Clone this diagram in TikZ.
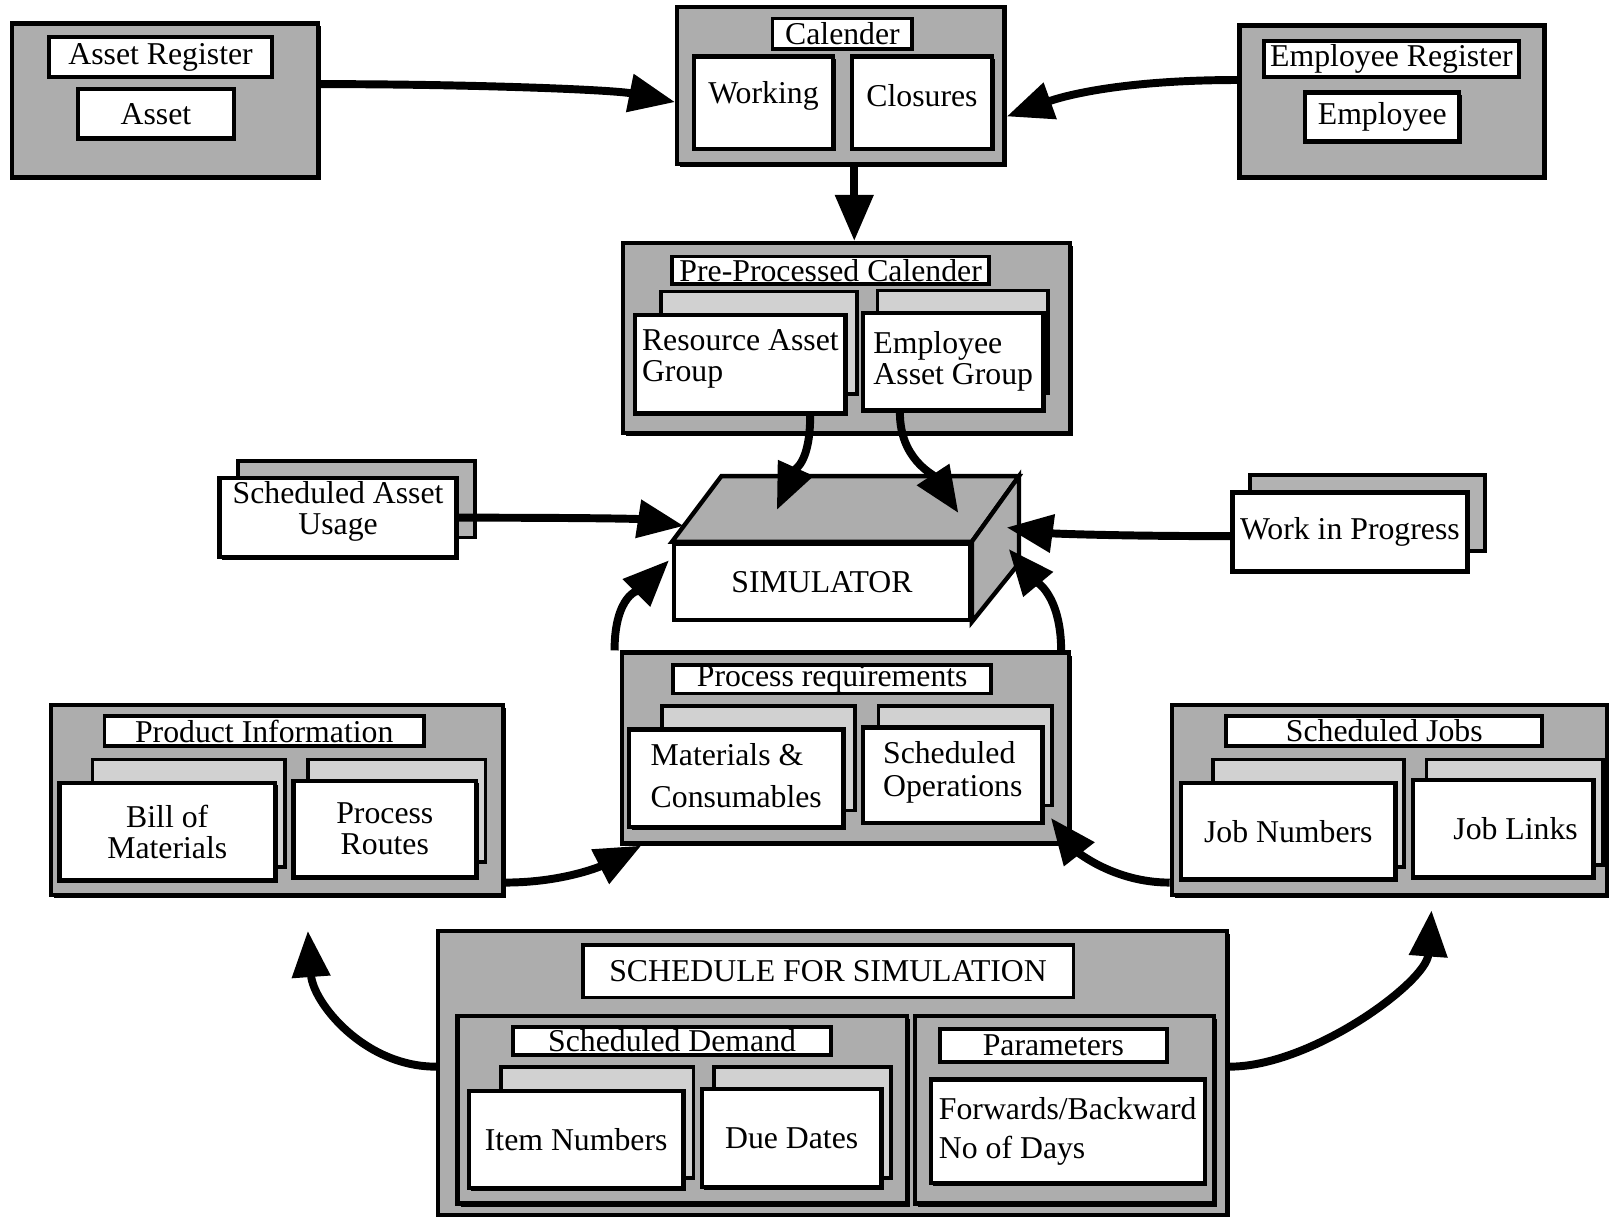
\documentclass[tikz,border=0pt]{standalone}
\usepackage{fontspec}
\setmainfont{Liberation Serif}
\usetikzlibrary{arrows.meta,fit,shadows,calc}

\begin{document}
\begin{tikzpicture}[x=0.01cm,y=-0.01cm,font=\fontsize{8.8}{8.6}\selectfont]
\tikzstyle{panel}=[draw,line width=1.2pt,fill=black!32,inner sep=0pt,drop shadow={shadow xshift=0.8pt,shadow yshift=-0.8pt,fill=black,opacity=1}]
\tikzstyle{tab}=[draw,line width=1pt,fill=white,inner sep=0pt]
\tikzstyle{sheet}=[tab,line width=1.2pt,drop shadow={shadow xshift=0.7pt,shadow yshift=-0.7pt,fill=black,opacity=1}]
\tikzstyle{backsheet}=[draw,line width=1pt,fill=black!18,inner sep=0pt]
\tikzstyle{flow}=[line width=2.2pt,-{Triangle[length=4.5mm,width=3.6mm]}]
\path[use as bounding box,fill=white] (0,0) rectangle (1568,1186);

\node[panel,fit={(12,23) (310,173)}] (areg) {};
\node[tab,fit={(48,36) (265,75)},label=center:Asset Register] (aregt) {};
\node[sheet,fit={(76,87) (228,135)},label=center:Asset] (asset) {};

\node[panel,fit={(660,7) (979,160)}] (cal) {};
\node[tab,fit={(753,18) (889,48)},label=center:Calender] (calt) {};
\node[sheet,fit={(676,55) (812,145)},label={[yshift=0.07cm]center:Working}] (work) {};
\node[sheet,fit={(830,55) (967,145)},label={[yshift=0.07cm]center:Closures}] (clos) {};

\node[panel,fit={(1208,25) (1505,173)}] (ereg) {};
\node[tab,fit={(1232,40) (1480,75)},label=center:Employee Register] (eregt) {};
\node[sheet,fit={(1272,90) (1422,138)},label=center:Employee] (empl) {};

\node[panel,fit={(607,237) (1043,422)}] (pp) {};
\node[tab,fit={(655,250) (964,277)},label=center:Pre-Processed Calender] (ppt) {};
\node[backsheet,fit={(644,284) (835,384)}] (ragb) {};
\node[sheet,fit={(619,307) (824,403)},label={[align=left,yshift=0.05cm]center:Resource Asset\\Group}] (rag) {};
\node[backsheet,fit={(855,283) (1021,383)}] (eagb) {};
\node[sheet,fit={(841,305) (1017,400)},label={[align=left]center:Employee\\Asset Group}] (eag) {};

\coordinate (sA) at (703,464);
\coordinate (sB) at (993,464);
\coordinate (sC) at (993,549);
\node[sheet,fit={(657,530) (945,604)},label=center:SIMULATOR] (sim) {};
\draw[line width=1.2pt,fill=black!32] (sim.north west) -- (sA) -- (sB) -- (sim.north east) -- cycle;
\draw[line width=1.2pt,fill=black!32] (sim.north east) -- (sB) -- (sC) -- (sim.south east) -- cycle;
\coordinate (t1) at (757,497);
\coordinate (t2) at (934,500);
\coordinate (t3) at ($(sim.north west)!0.24!(sA)$);
\coordinate (t4) at (981,514);
\coordinate (t5) at (652,546);
\coordinate (t6) at (983,535);

\node[backsheet,fill=black!30,fit={(232,449) (463,524)}] (saub) {};
\node[sheet,fit={(214,466) (445,543)},label={[align=center,yshift=0.06cm]center:Scheduled Asset\\Usage}] (sau) {};

\node[backsheet,fill=black!30,fit={(1218,463) (1447,537)}] (wipb) {};
\node[sheet,fit={(1201,480) (1430,557)},label=center:Work in Progress] (wip) {};

\node[panel,fit={(606,636) (1042,822)}] (pr) {};
\node[tab,fit={(656,648) (966,676)},label=center:Process requirements] (prt) {};
\node[backsheet,fit={(645,688) (833,790)}] (matb) {};
\node[sheet,fit={(613,711) (822,806)},label={[align=left,yshift=0.03cm]center:Materials \&\\[3pt]Consumables}] (mat) {};
\node[backsheet,fit={(856,688) (1025,785)}] (sopb) {};
\node[sheet,fit={(841,709) (1016,802)},label={[align=left,yshift=0.03cm]center:Scheduled\\[0.5pt]Operations}] (sop) {};

\node[panel,fit={(50,687) (490,872)}] (pi) {};
\node[tab,fit={(102,698) (413,727)},label=center:Product Information] (pit) {};
\node[backsheet,fit={(90,740) (278,845)}] (bomb) {};
\node[sheet,fit={(58,763) (268,858)},label={[align=center]center:Bill of\\Materials}] (bom) {};
\node[backsheet,fit={(300,740) (473,840)}] (routeb) {};
\node[sheet,fit={(286,761) (464,855)},label={[align=center]center:Process\\Routes}] (route) {};

\node[panel,fit={(1142,687) (1566,872)}] (sj) {};
\node[tab,fit={(1195,698) (1503,727)},label=center:Scheduled Jobs] (sjt) {};
\node[backsheet,fit={(1182,740) (1368,845)}] (jnb) {};
\node[sheet,fit={(1151,763) (1360,857)},label=center:Job Numbers] (jn) {};
\node[backsheet,fit={(1390,740) (1562,843)}] (jlb) {};
\node[sheet,fit={(1377,760) (1553,855)},label={[xshift=0.12cm]center:Job Links}] (jl) {};

\node[panel,fit={(427,907) (1196,1184)}] (sfs) {};
\node[tab,fit={(568,921) (1046,972)},label=center:SCHEDULE FOR SIMULATION] (sfst) {};
\node[panel,fit={(446,990) (884,1173)}] (sd) {};
\node[tab,fit={(500,1001) (810,1028)},label=center:Scheduled Demand] (sdt) {};
\node[backsheet,fit={(488,1040) (676,1148)}] (itemb) {};
\node[sheet,fit={(457,1063) (666,1158)},label=center:Item Numbers] (item) {};
\node[backsheet,fit={(696,1040) (868,1148)}] (dueb) {};
\node[sheet,fit={(684,1061) (859,1157)},label=center:Due Dates] (due) {};
\node[panel,fit={(892,990) (1183,1173)}] (par) {};
\node[tab,fit={(916,1003) (1137,1035)},label=center:Parameters] (part) {};
\node[sheet,fit={(907,1052) (1174,1153)},label={[align=left]center:Forwards/Backward\\[2pt]No of Days}] (fwd) {};

\draw[flow] ([yshift=0.16cm]areg.east) .. controls +(150,0) and +(-60,-12) .. ([yshift=-0.16cm]cal.west);
\draw[flow] ([yshift=0.21cm]ereg.west) .. controls +(-120,0) and +(50,-18) .. ([yshift=-0.3cm]cal.east);
\draw[flow] ([xshift=0.13cm]cal.south) -- ([xshift=0.13cm]cal.south |- pp.north);
\draw[flow] ([xshift=0.68cm]rag.south) .. controls +(0,45) and +(18,-40) .. (t1);
\draw[flow] ([xshift=-0.52cm]eag.south) .. controls +(0,45) and +(-25,-38) .. (t2);
\draw[flow] (sau.east) .. controls +(120,0) and +(-45,-7) .. (t3);
\draw[flow] ([yshift=-0.04cm]wip.west) .. controls +(-110,0) and +(45,6) .. (t4);
\draw[flow] ([xshift=-0.05cm]pr.north west) .. controls +(0,-55) and +(-28,28) .. (t5);
\draw[flow] ([xshift=-0.1cm]pr.north east) .. controls +(0,-55) and +(25,30) .. (t6);
\draw[flow] ([yshift=0.14cm]pi.south east) .. controls +(60,0) and +(-35,18) .. ([xshift=0.21cm]pr.south west);
\draw[flow] ([yshift=0.14cm]sj.south west) .. controls +(-55,0) and +(25,32) .. ([xshift=-0.2cm,yshift=0.27cm]pr.south east);
\draw[flow] ([yshift=0.06cm]sfs.west) .. controls +(-70,0) and +(5,70) .. ([xshift=0.3cm,yshift=-0.33cm]pi.south);
\draw[flow] ([yshift=0.06cm]sfs.east) .. controls +(80,0) and +(-5,70) .. ([xshift=0.41cm,yshift=-0.13cm]sj.south);
\end{tikzpicture}
\end{document}
